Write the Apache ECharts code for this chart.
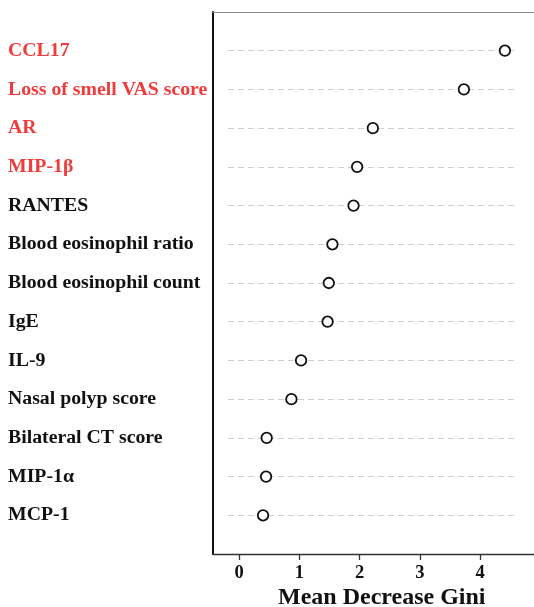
<!DOCTYPE html>
<html>
<head>
<meta charset="utf-8">
<script src="https://cdn.jsdelivr.net/npm/echarts@6/dist/echarts.min.js"></script>
<style>
html,body{margin:0;padding:0;background:#fff;}
#chart{width:534px;height:607px;}
</style>
</head>
<body>
<div id="chart"></div>
<script>
// Variables, top to bottom
const categories = [
  'CCL17', 'Loss of smell VAS score', 'AR', 'MIP-1\u03b2', 'RANTES',
  'Blood eosinophil ratio', 'Blood eosinophil count', 'IgE', 'IL-9',
  'Nasal polyp score', 'Bilateral CT score', 'MIP-1\u03b1', 'MCP-1'
];
// Mean Decrease Gini
const giniValues = [4.41, 3.73, 2.22, 1.96, 1.90, 1.55, 1.49, 1.47, 1.03, 0.87, 0.46, 0.45, 0.40];
// Highlighted (red) variables
const highlighted = [true, true, true, true, false, false, false, false, false, false, false, false, false];
const xTicks = [0, 1, 2, 3, 4];

const FONT = "'Liberation Serif', 'Times New Roman', serif";
const RED = '#ef3b3b';

const GTOP = 12, GH = 542;
const chart = echarts.init(document.getElementById('chart'));
const scatterData = giniValues.map((v, i) => [v, i]);

chart.setOption({
  animation: false,
  backgroundColor: '#fff',
  grid: [
    // main plot
    { left: 213, top: GTOP, width: 327.5, height: GH, outerBoundsMode: 'none', containLabel: false },
    // tick axis 0..4
    { left: 239, top: GTOP, width: 241.2, height: GH, outerBoundsMode: 'none', containLabel: false },
    // dashed guide lines
    { left: 228, top: GTOP, width: 287, height: GH, outerBoundsMode: 'none', containLabel: false }
  ],
  xAxis: [
    {
      gridIndex: 0, type: 'value', min: -0.43, max: 5, position: 'bottom',
      axisLine: { show: true, onZero: false, lineStyle: { color: '#333', width: 1.3 } },
      axisTick: { show: false }, axisLabel: { show: false }, splitLine: { show: false },
      name: 'Mean Decrease Gini', nameLocation: 'middle', nameGap: 32,
      nameTextStyle: { fontFamily: FONT, fontWeight: 'bold', fontSize: 24, color: '#111', padding: [0, 0, 0, 10] }
    },
    {
      gridIndex: 0, type: 'value', min: -0.43, max: 5, position: 'top',
      axisLine: { show: true, onZero: false, lineStyle: { color: '#8a8a8a', width: 1.2 } },
      axisTick: { show: false }, axisLabel: { show: false }, splitLine: { show: false }
    },
    {
      gridIndex: 1, type: 'value', min: 0, max: 4, interval: 1, position: 'bottom',
      axisLine: { show: false, onZero: false },
      axisTick: { show: true, length: 6, inside: false, lineStyle: { color: '#333', width: 1.3 } },
      axisLabel: { show: true, margin: 10, fontFamily: FONT, fontWeight: 'bold', fontSize: 18.5, color: '#111',
        formatter: v => (xTicks.indexOf(v) >= 0 ? String(v) : '') },
      splitLine: { show: false }
    },
    {
      gridIndex: 2, type: 'value', min: 0, max: 1, show: false, axisLine: { onZero: false }
    }
  ],
  yAxis: [
    {
      gridIndex: 0, type: 'value', min: -1, max: categories.length, interval: 1, inverse: true,
      axisLine: { show: true, onZero: false, lineStyle: { color: '#111', width: 2 } },
      axisTick: { show: false },
      splitLine: { show: false },
      axisLabel: {
        show: true, align: 'left', margin: 205,
        fontFamily: FONT, fontWeight: 'bold', fontSize: 19.8,
        formatter: v => (categories[v] !== undefined ? categories[v] : ''),
        color: (v) => (highlighted[v] ? RED : '#111')
      }
    },
    { gridIndex: 1, type: 'value', min: -1, max: categories.length, show: false, axisLine: { onZero: false } },
    {
      gridIndex: 2, type: 'value', min: -1, max: categories.length, interval: 1, inverse: true,
      axisLine: { show: false, onZero: false }, axisTick: { show: false }, axisLabel: { show: false },
      splitLine: {
        show: true,
        lineStyle: {
          color: ['transparent'].concat(categories.map(() => '#cfcfcf')).concat(['transparent']),
          type: [6, 4], width: 1
        }
      }
    }
  ],
  series: [
    {
      type: 'scatter', xAxisIndex: 0, yAxisIndex: 0,
      data: scatterData,
      symbol: 'circle', symbolSize: 10.5,
      itemStyle: { color: '#fff', borderColor: '#111', borderWidth: 1.8, opacity: 1 },
      z: 5
    }
  ]
});
</script>
</body>
</html>
